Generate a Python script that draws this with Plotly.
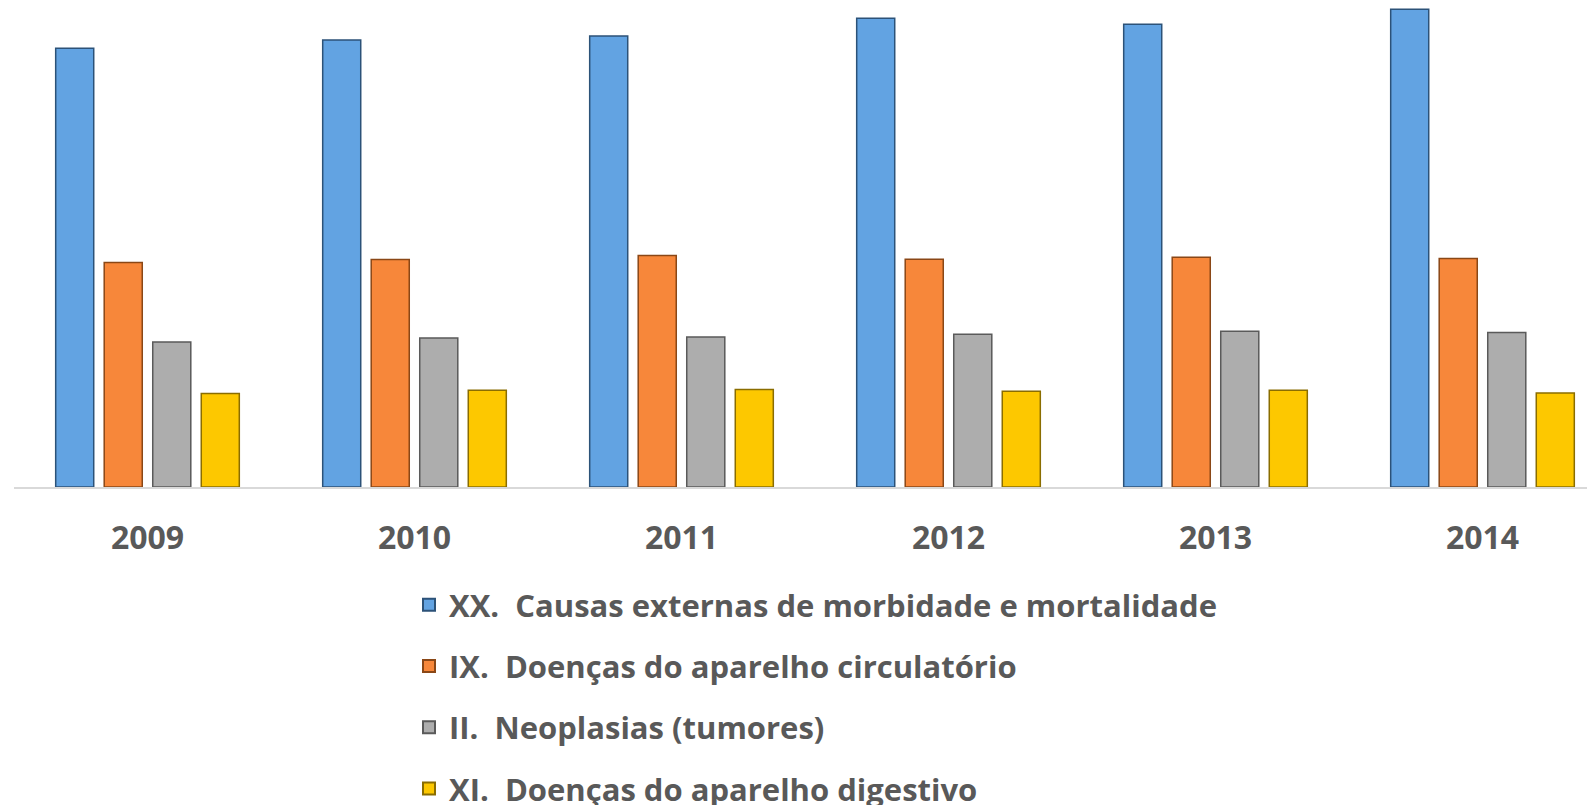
import plotly.graph_objects as go

years = ["2009", "2010", "2011", "2012", "2013", "2014"]
series_names = [
    "XX.  Causas externas de morbidade e mortalidade",
    "IX.  Doenças do aparelho circulatório",
    "II.  Neoplasias (tumores)",
    "XI.  Doenças do aparelho digestivo",
]
xx_values = [4384, 4467, 4507, 4684, 4624, 4774]
ix_values = [2244, 2274, 2314, 2277, 2297, 2284]
ii_values = [1450, 1490, 1500, 1527, 1557, 1544]
xi_values = [934, 967, 974, 957, 967, 940]

fills = ["#62a3e2", "#f7873a", "#adadad", "#fdc800"]
edges = ["#2c5278", "#8a4716", "#5a5a5a", "#8a6d00"]

fig = go.Figure()
for i, (name, vals) in enumerate(zip(series_names, [xx_values, ix_values, ii_values, xi_values])):
    fig.add_trace(go.Bar(
        x=list(range(len(years))), y=vals, name=name,
        marker=dict(color=fills[i], line=dict(color=edges[i], width=1.5)),
        legendgroup=f"g{i}",
    ))

# page has an 8px body margin: figure origin sits at (8, 8) in the window
OFF = 8
W, H = 1595 - OFF, 805 - OFF
left = 14 - OFF
cat_px = 267
plot_w = W - left
base = 486.7 - OFF
fig.update_layout(
    width=W, height=H,
    margin=dict(l=left, r=0, t=0, b=H - base, autoexpand=False),
    paper_bgcolor="white", plot_bgcolor="white",
    barmode="group", bargap=0.273, bargroupgap=0.216,
    font=dict(family="Open Sans", color="#595959"),
    showlegend=True,
    legend=dict(
        orientation="v", xref="container", yref="container",
        x=401 / W, xanchor="left", y=1 - 570 / H, yanchor="top",
        font=dict(size=31, family="Open Sans", color="#595959", weight="bold"),
        tracegroupgap=18, itemsizing="constant",
        bgcolor="rgba(0,0,0,0)",
    ),
    xaxis=dict(
        range=[-0.5, -0.5 + plot_w / cat_px],
        tickmode="array", tickvals=list(range(len(years))), ticktext=years,
        showgrid=False, zeroline=False, showline=True, linecolor="#d9d9d9", linewidth=1.5,
        tickfont=dict(size=32, family="Open Sans", color="#595959", weight="bold"),
        ticks="", ticklabelstandoff=22,
    ),
    yaxis=dict(range=[0, base * 10], visible=False, showgrid=False, zeroline=False),
)

fig.write_html("out.html")
